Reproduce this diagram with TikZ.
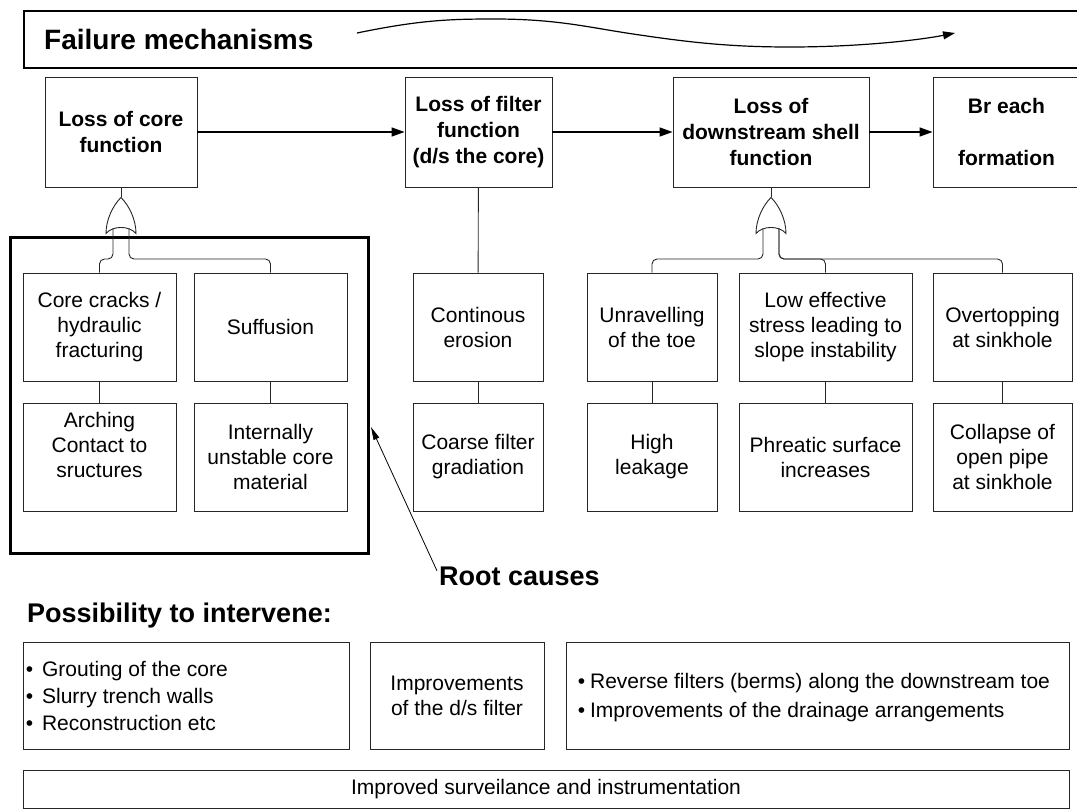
\documentclass[tikz,border=0pt]{standalone}
\usepackage{fontspec}
\setmainfont{Liberation Sans}
\usetikzlibrary{arrows.meta,calc}

\begin{document}
\begin{tikzpicture}[x=1pt,y=-1pt,
    box/.style={draw=black!85, line width=0.9pt, align=center, inner sep=2pt, font=\fontsize{21}{25}\selectfont},
    headbox/.style={box, minimum height=110, font=\fontsize{21}{26}\selectfont\bfseries},
    causebox/.style={box, minimum height=108},
    heading/.style={font=\fontsize{27}{32}\selectfont\bfseries, inner sep=0pt},
    bullets/.style={anchor=west, align=left, inner sep=0pt},
    link/.style={draw=black!85, line width=0.9pt},
    flow/.style={line width=1.4pt, -{Triangle[length=13pt,width=9pt]}},
    pointer/.style={line width=0.8pt, -{Triangle[length=13pt,width=6pt]}},
    orgate/.pic={
        \draw[link, fill=white] (0,0) .. controls (-8,8) and (-15,22) .. (-15,36)
            .. controls (-8,28) and (8,28) .. (15,36)
            .. controls (15,22) and (8,8) .. (0,0) -- cycle;
        \coordinate (-top) at (0,0);
        \coordinate (-l) at (-8,31);
        \coordinate (-r) at (8,31);
    }
]
\useasboundingbox (0,0) rectangle (1077,809);

% banner
\node[draw, line width=2.5pt, minimum width=1076, minimum height=57] (banner) at (562,39.5) {};
\node[heading, font=\fontsize{28}{32}\selectfont\bfseries, anchor=base west] (fmtitle) at (44,49) {Failure mechanisms};
\coordinate (wstart) at (357,33);
\coordinate (wend) at (955,33);
\draw[line width=1.2pt, -{Triangle[length=12pt,width=8pt]}] (wstart) .. controls (420,20) and (450,19) .. (494,19)
    .. controls (560,19) and (590,28) .. (640,35) .. controls (700,44) and (740,47) .. (790,47)
    .. controls (860,47) and (920,40) .. (wend);

% failure chain
\node[headbox, minimum width=152] (core) at (121,132) {Loss of core\\function};
\node[headbox, minimum width=147] (filt) at (478.5,132) {Loss of filter\\function\\(d/s the core)};
\node[headbox, minimum width=196] (shell) at (771,132) {Loss of\\downstream shell\\function};
\node[headbox, minimum width=147] (breach) at (1006.5,132) {Br each\\[26pt]formation};
\draw[flow] (core) -- (filt);
\draw[flow] (filt) -- (shell);
\draw[flow] (shell) -- (breach);

% root causes
\node[draw, line width=3pt, minimum width=358, minimum height=316] (rootbox) at (189,395) {};
\node[causebox, minimum width=153] (cracks) at (99.5,327) {Core cracks /\\hydraulic\\fracturing};
\node[causebox, minimum width=153] (suff) at (270.5,327) {Suffusion};
\node[causebox, minimum width=153] (arch) at (99.5,457) {Arching\\Contact to\\sructures\\\mbox{}};
\node[causebox, minimum width=153] (unstab) at (270.5,457) {Internally\\unstable core\\material};
\node[causebox, minimum width=130] (eros) at (478,327) {Continous\\erosion};
\node[causebox, minimum width=130] (coarse) at (478,457) {Coarse filter\\gradiation};
\node[causebox, minimum width=130] (unrav) at (652,327) {Unravelling\\of the toe};
\node[causebox, minimum width=130] (leak) at (652,457) {High\\leakage};
\node[causebox, minimum width=173] (low) at (825.5,327) {Low effective\\stress leading to\\slope instability};
\node[causebox, minimum width=173] (phrea) at (825.5,457) {Phreatic surface\\increases};
\node[causebox, minimum width=139] (over) at (1002.5,327) {Overtopping\\at sinkhole};
\node[causebox, minimum width=139] (pipe) at (1002.5,457) {Collapse of\\open pipe\\at sinkhole};

\draw[link] (cracks) -- (arch);
\draw[link] (suff) -- (unstab);
\draw[link] (filt) -- (eros);
\draw[link] (eros) -- (coarse);
\draw[link] (unrav) -- (leak);
\draw[link] (low) -- (phrea);
\draw[link] (over) -- (pipe);

\coordinate (bus) at (0,259);
\pic (g1) at ($(core.south)+(0,10)$) {orgate};
\pic (g2) at ($(shell.south)+(0,10)$) {orgate};
\draw[link] (core.south) -- (g1-top);
\draw[link] (shell.south) -- (g2-top);
\draw[link, rounded corners=5] (g1-l) -- (g1-l |- bus) -| (cracks.north);
\draw[link, rounded corners=5] (g1-r) -- (g1-r |- bus) -| (suff.north);
\draw[link, rounded corners=5] (g2-l) -- (g2-l |- bus) -| (unrav.north);
\draw[link, rounded corners=5] (g2-r) -- (g2-r |- bus) -| (low.north);
\draw[link, rounded corners=5] (g2-r) -- (g2-r |- bus) -| (over.north);

\node[heading, anchor=base west] (rc) at (439,585) {Root causes};
\coordinate (rctip) at (371,427);
\draw[pointer] ($(rc.west)+(-2,-5)$) -- (rctip);

% interventions
\node[heading, anchor=base west] (poss) at (27,622) {Possibility to intervene:};
\node[box, minimum width=326, minimum height=107] (grout) at (186,695.5) {};
\node[bullets, font=\fontsize{21}{27}\selectfont] (grouttext) at ($(grout.west)+(3,0)$)
    {•\hspace{9pt}Grouting of the core\\•\hspace{9pt}Slurry trench walls\\•\hspace{9pt}Reconstruction etc};
\node[box, minimum width=174, minimum height=107] (dsfilt) at (457,695.5) {Improvements\\of the d/s filter};
\node[box, minimum width=503, minimum height=107] (berms) at (817.5,695.5) {};
\node[bullets, font=\fontsize{21}{29}\selectfont] (bermstext) at ($(berms.west)+(12,2)$)
    {•\hspace{5pt}Reverse filters (berms) along the downstream toe\\•\hspace{5pt}Improvements of the drainage arrangements};
\node[box, minimum width=1046, minimum height=38] (surv) at (546,789) {Improved surveilance and instrumentation};
\end{tikzpicture}
\end{document}
